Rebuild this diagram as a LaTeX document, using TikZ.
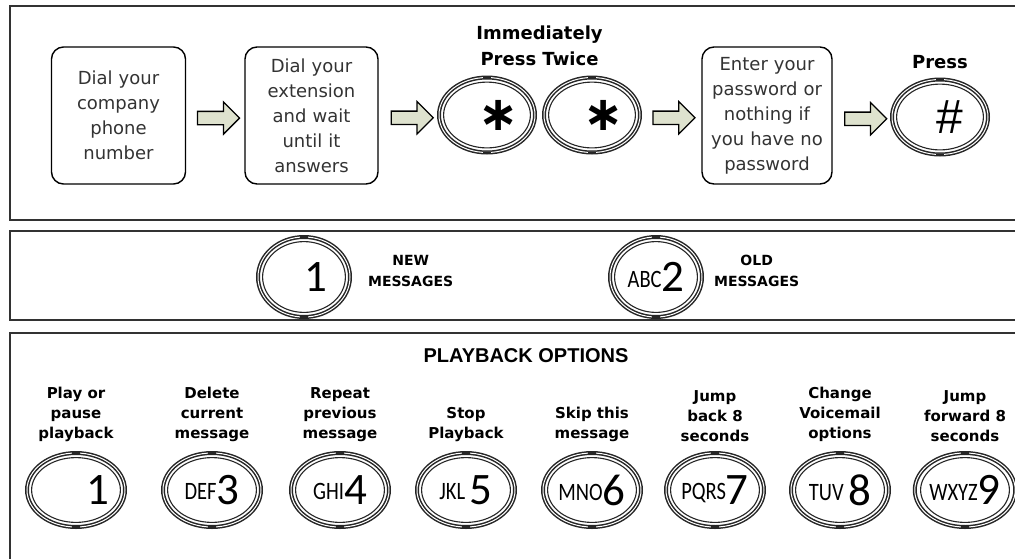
\documentclass[tikz,border=0pt]{standalone}
\usepackage{fontspec}
\setmainfont{DejaVu Sans}
\newfontfamily\headfont{Liberation Sans}
\newfontfamily\keyfont{Carlito}
\newfontfamily\keyletters[FakeStretch=0.82]{Carlito}
\usetikzlibrary{shapes.geometric,shapes.arrows,positioning,calc}
\definecolor{pfeilgruen}{RGB}{222,226,206}
\definecolor{rahmengrau}{RGB}{50,50,50}
\tikzset{
  panel/.style={draw=rahmengrau, line width=1.8pt},
  schritt/.style={draw=black, line width=1.4pt, rounded corners=12pt, minimum width=134pt,
    minimum height=137pt, text width=130pt, align=center, inner sep=0pt, text=black!80,
    font=\fontsize{18}{25}\selectfont},
  taste/.style={ellipse, draw=black!85, line width=1.5pt, double=white, double distance=1pt,
    inner sep=0pt, outer sep=0pt, minimum width=96pt, minimum height=75pt},
  blockpfeil/.style={single arrow, draw=black, line width=1.3pt, fill=pfeilgruen, inner xsep=0pt,
    inner ysep=6pt, minimum height=42pt, single arrow head extend=9.5pt},
  titel/.style={font=\bfseries\fontsize{18}{26}\selectfont, align=center, inner sep=0pt},
  hinweis/.style={font=\bfseries\fontsize{14}{21}\selectfont, align=center, inner sep=0pt},
  option/.style={font=\bfseries\fontsize{15}{20}\selectfont, align=center, inner sep=0pt},
}
\newcommand{\tastentext}[2]{\raisebox{4.5pt}{\keyletters\fontsize{25}{25}\selectfont #1}{\keyfont\fontsize{45}{45}\selectfont #2}}
\begin{document}
\begin{tikzpicture}[x=1pt, y=-1pt]
  \useasboundingbox (0,0) rectangle (1015,558);
  \clip (0,0) rectangle (1015,558);
  \fill[white] (0,0) rectangle (1015,558);
  % Rahmen der drei Felder (rechts und unten abgeschnitten)
  \draw[panel] (10,6) rectangle (1030,220);
  \draw[panel] (10,231) rectangle (1030,320);
  \draw[panel] (10,333) rectangle (1030,580);
  % Feld 1: Schritte zum Einwaehlen
  \node[schritt] (firma) at (118.5,115.5) {Dial your\\company\\phone\\number};
  \node[schritt, minimum width=133pt] (nebenstelle) at (311.5,115.5) {Dial your\\extension\\and wait\\until it\\answers};
  \node[taste] (stern1) at (487,115) {\hspace*{24pt}{\bfseries\fontsize{48}{48}\selectfont ∗}};
  \node[taste, right=9pt of stern1] (stern2) {\hspace*{24pt}{\bfseries\fontsize{48}{48}\selectfont ∗}};
  \node[schritt, minimum width=130pt, text width=128pt] (passwort) at (767,115.5) {Enter your\\password or\\nothing if\\you have no\\password};
  \node[taste] (raute) at (940,117) {\hspace*{20pt}{\headfont\fontsize{48}{48}\selectfont\#}};
  \coordinate (sternmitte) at ($(stern1.north)!0.5!(stern2.north)$);
  \node[titel, above=12pt of sternmitte] (sofort) {Immediately\\Press Twice};
  \node[titel, above=11pt of raute] (druecken) {Press};
  % Blockpfeile zwischen den Schritten
  \foreach \a/\b [count=\i] in {firma/nebenstelle, nebenstelle/stern1, stern2/passwort, passwort/raute}
    \node[blockpfeil, yshift=-2.5pt] (pfeil\i) at ($(\a.east)!0.5!(\b.west)$) {};
  % Feld 2: neue und alte Nachrichten
  \node[taste, minimum width=92pt, minimum height=80pt] (neu) at (304,277) {\tastentext{\phantom{AB}}{1}};
  \node[hinweis, right=18pt of neu, yshift=6pt] (neutext) {NEW\\MESSAGES};
  \node[taste, minimum width=92pt, minimum height=80pt] (alt) at (656,277) {\tastentext{ABC}{2}};
  \node[hinweis, right=12pt of alt, yshift=6pt] (alttext) {OLD\\MESSAGES};
  % Feld 3: Wiedergabe-Optionen
  \node[font=\headfont\bfseries\fontsize{20}{20}\selectfont, inner sep=0pt] (wiedergabe) at (526,356) {PLAYBACK OPTIONS};
  \foreach \x/\n/\buch/\ziff/\txt in {
      76/t1/\phantom{MNO}/1/{Play or\\pause\\playback},
      212/t3/DEF/3/{Delete\\current\\message},
      340/t4/GHI/4/{Repeat\\previous\\message},
      466/t5/JKL~/5/{Stop\\Playback},
      592/t6/MNO/6/{Skip this\\message},
      715/t7/PQRS/7/{Jump\\back 8\\seconds},
      840/t8/TUV~/8/{Change\\Voicemail\\options},
      965/t9/WXYZ/9/{Jump\\forward 8\\seconds}}{
    \node[taste, minimum width=98pt, minimum height=74pt] (\n) at (\x,490) {\tastentext{\buch}{\ziff}};
    \node[option, above=11pt of \n] (\n text) {\txt};
  }
  % innerer Ring und Markierungen oben/unten an jeder Taste
  \foreach \k/\rx/\ry in {stern1/48/37.5, stern2/48/37.5, raute/48/37.5, neu/46/40, alt/46/40,
      t1/49/37, t3/49/37, t4/49/37, t5/49/37, t6/49/37, t7/49/37, t8/49/37, t9/49/37}{
    \draw[black!85, line width=1.1pt] (\k.center) ellipse [x radius=\rx-4.6, y radius=\ry-4.6];
    \draw[black!85, line width=2pt] ([xshift=-4pt]\k.north) -- ([xshift=4pt]\k.north);
    \draw[black!85, line width=2pt] ([xshift=-4pt]\k.south) -- ([xshift=4pt]\k.south);
  }
\end{tikzpicture}
\end{document}
